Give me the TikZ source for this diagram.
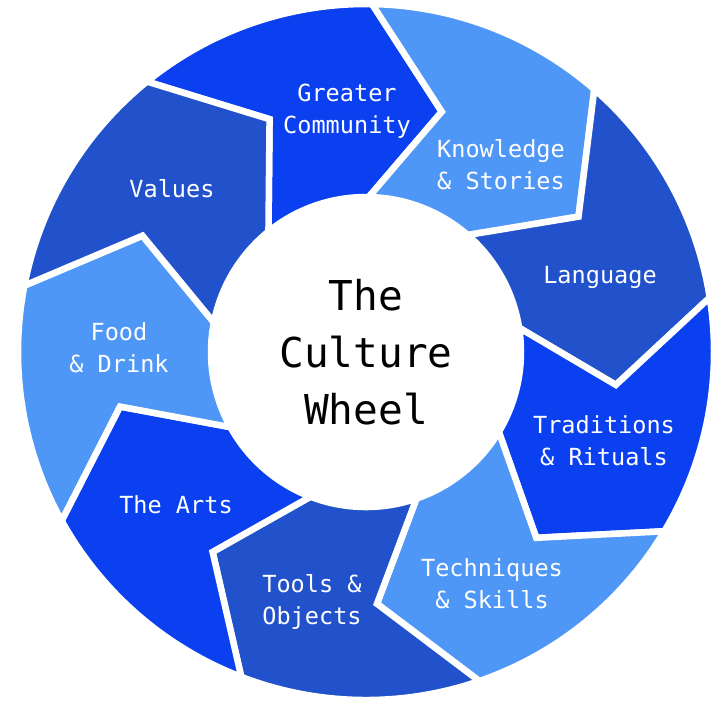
\documentclass[tikz,border=0pt]{standalone}
\usepackage{fontspec}
\setmonofont{DejaVu Sans Mono}
\usepackage{tikz}
\definecolor{wheelbright}{HTML}{0A40F0}
\definecolor{wheelmid}{HTML}{2152CC}
\definecolor{wheellight}{HTML}{4F97F6}

\begin{document}
\begin{tikzpicture}[
  seg/.style={fill=#1,draw=white,line width=0.065cm,line join=miter},
  lbl/.style={text=white,font=\ttfamily\fontsize{6.7}{9.1}\selectfont,align=center},
  hub/.style={circle,fill=white,minimum size=3.1cm,font=\ttfamily\fontsize{11.7}{16.2}\selectfont,align=center}
]
\useasboundingbox (-3.66,-3.51) rectangle (3.53,3.52);
% nine chevron segments, clockwise from the top
\fill[seg=wheelbright] (129:3.48) arc[start angle=129,end angle=89,radius=3.48] -- (72.5:2.52) -- (89:1.55) arc[start angle=89,end angle=129,radius=1.55] -- (112.5:2.52) -- cycle;
\fill[seg=wheellight] (89:3.48) arc[start angle=89,end angle=49,radius=3.48] -- (32.5:2.52) -- (49:1.55) arc[start angle=49,end angle=89,radius=1.55] -- (72.5:2.52) -- cycle;
\fill[seg=wheelmid] (49:3.48) arc[start angle=49,end angle=9,radius=3.48] -- (-7.5:2.52) -- (9:1.55) arc[start angle=9,end angle=49,radius=1.55] -- (32.5:2.52) -- cycle;
\fill[seg=wheelbright] (9:3.48) arc[start angle=9,end angle=-31,radius=3.48] -- (-47.5:2.52) -- (-31:1.55) arc[start angle=-31,end angle=9,radius=1.55] -- (-7.5:2.52) -- cycle;
\fill[seg=wheellight] (-31:3.48) arc[start angle=-31,end angle=-71,radius=3.48] -- (-87.5:2.52) -- (-71:1.55) arc[start angle=-71,end angle=-31,radius=1.55] -- (-47.5:2.52) -- cycle;
\fill[seg=wheelmid] (-71:3.48) arc[start angle=-71,end angle=-111,radius=3.48] -- (-127.5:2.52) -- (-111:1.55) arc[start angle=-111,end angle=-71,radius=1.55] -- (-87.5:2.52) -- cycle;
\fill[seg=wheelbright] (-111:3.48) arc[start angle=-111,end angle=-151,radius=3.48] -- (-167.5:2.52) -- (-151:1.55) arc[start angle=-151,end angle=-111,radius=1.55] -- (-127.5:2.52) -- cycle;
\fill[seg=wheellight] (-151:3.48) arc[start angle=-151,end angle=-191,radius=3.48] -- (-207.5:2.52) -- (-191:1.55) arc[start angle=-191,end angle=-151,radius=1.55] -- (-167.5:2.52) -- cycle;
\fill[seg=wheelmid] (169:3.48) arc[start angle=169,end angle=129,radius=3.48] -- (112.5:2.52) -- (129:1.55) arc[start angle=129,end angle=169,radius=1.55] -- (152.5:2.52) -- cycle;
% labels
\node[hub] (hub) at (0,0) {The\\Culture\\Wheel};
\node[lbl] (community) at (-0.19,2.41) {Greater\\Community};
\node[lbl] (knowledge) at (1.35,1.87) {Knowledge\\\& Stories};
\node[lbl] (language) at (2.34,0.75) {Language};
\node[lbl] (traditions) at (2.38,-0.89) {Traditions\\\& Rituals};
\node[lbl] (techniques) at (1.26,-2.32) {Techniques\\\& Skills};
\node[lbl] (tools) at (-0.54,-2.50) {Tools \&\\Objects};
\node[lbl] (arts) at (-1.90,-1.53) {The Arts};
\node[lbl] (food) at (-2.47,0.04) {Food\\\& Drink};
\node[lbl] (values) at (-1.94,1.63) {Values};
\end{tikzpicture}
\end{document}
